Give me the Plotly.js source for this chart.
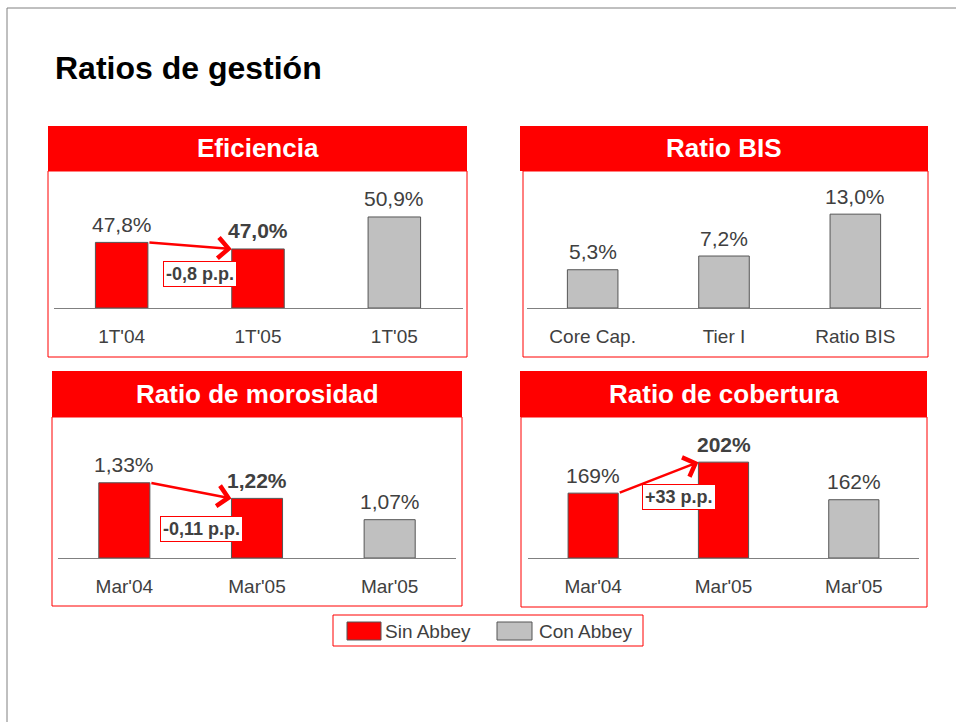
<!DOCTYPE html>
<html>
<head>
<meta charset="utf-8">
<script src="https://cdn.plot.ly/plotly-3.0.1.min.js"></script>
<style>html,body{margin:0;padding:0;background:#fff;}#chart{width:956px;height:722px;}</style>
</head>
<body>
<div id="chart"></div>
<script>
// ---------------- data ----------------
const pageTitle = 'Ratios de gestión';
const panelTitles = ['Eficiencia', 'Ratio BIS', 'Ratio de morosidad', 'Ratio de cobertura'];
const legendNames = ['Sin Abbey', 'Con Abbey'];

const efCats = ["1T'04", "1T'05", "1T'05"];
const efVals = [47.8, 47.0, 50.9];
const efGroup = ['Sin Abbey', 'Sin Abbey', 'Con Abbey'];

const bisCats = ['Core Cap.', 'Tier I', 'Ratio BIS'];
const bisVals = [5.3, 7.2, 13.0];
const bisGroup = ['Con Abbey', 'Con Abbey', 'Con Abbey'];

const morCats = ["Mar'04", "Mar'05", "Mar'05"];
const morVals = [1.33, 1.22, 1.07];
const morGroup = ['Sin Abbey', 'Sin Abbey', 'Con Abbey'];

const cobCats = ["Mar'04", "Mar'05", "Mar'05"];
const cobVals = [169, 202, 162];
const cobGroup = ['Sin Abbey', 'Sin Abbey', 'Con Abbey'];

// ---------------- styling / layout ----------------
const W = 956, H = 722;
const X = px => px / W;
const Y = py => 1 - py / H;
const RED = '#ff0000', GRAY = '#c0c0c0', OUT = '#555555', TXT = '#404040';
const FONT = 'Liberation Sans, Arial, sans-serif';
const groupColor = g => g === legendNames[0] ? RED : GRAY;
const BARW = 0.385;

const fmt = (v, d) => v.toFixed(d).replace('.', ',');

const panels = [
  {cats: efCats, vals: efVals, group: efGroup, dec: 1, compare: true, range: [39.8, 55.41],
   xd: [53.5, 462.5], yd: [308, 180], head: [48, 126, 467, 171], body: [48, 171, 467, 357],
   delta: [0.575, 273.5]},
  {cats: bisCats, vals: bisVals, group: bisGroup, dec: 1, compare: false, range: [0, 17.73],
   xd: [527, 921], yd: [308, 180], head: [520, 126, 928, 171], body: [523, 171, 928, 357]},
  {cats: morCats, vals: morVals, group: morGroup, dec: 2, compare: true, range: [0.8, 1.737],
   xd: [58, 456], yd: [558, 425], head: [52, 371, 462, 417], body: [52, 417, 462, 606],
   delta: [0.584, 528.5]},
  {cats: cobCats, vals: cobVals, group: cobGroup, dec: 0, compare: true, range: [100, 241.5],
   xd: [528, 919], yd: [558, 425], head: [520, 371, 927, 417], body: [521, 417, 927, 607],
   delta: [0.655, 496.5]}
];

const traces = [];
const annotations = [];
const shapes = [];
const layout = {
  width: W, height: H, autosize: false,
  margin: {l: 0, r: 0, t: 0, b: 0},
  paper_bgcolor: '#fff', plot_bgcolor: 'rgba(0,0,0,0)',
  showlegend: false,
  font: {family: FONT, color: TXT},
  title: {text: '<b>' + pageTitle + '</b>', x: X(55), xanchor: 'left', xref: 'paper',
          y: Y(68), yanchor: 'middle', yref: 'paper', font: {family: FONT, size: 32, color: '#000'}},
  bargap: 0
};

// outer frame
shapes.push({type: 'line', xref: 'paper', yref: 'paper', x0: X(7), x1: 1, y0: Y(8), y1: Y(8), line: {color: '#808080', width: 1}});
shapes.push({type: 'line', xref: 'paper', yref: 'paper', x0: X(7), x1: X(7), y0: Y(8), y1: 0, line: {color: '#808080', width: 1}});

panels.forEach((p, k) => {
  const n = k + 1;
  const xa = n === 1 ? 'xaxis' : 'xaxis' + n;
  const ya = n === 1 ? 'yaxis' : 'yaxis' + n;
  const xr = n === 1 ? 'x' : 'x' + n;
  const yr = n === 1 ? 'y' : 'y' + n;
  const idx = p.cats.map((c, i) => i);

  // Bars are drawn from the axis minimum (base), so the bar length is value - min
  traces.push({
    type: 'bar', x: idx, y: p.vals.map(v => v - p.range[0]), base: p.range[0],
    width: BARW, xaxis: xr, yaxis: yr,
    marker: {color: p.group.map(groupColor), line: {color: OUT, width: 1}},
    hoverinfo: 'skip'
  });

  layout[xa] = {
    domain: [X(p.xd[0]), X(p.xd[1])], range: [-0.5, 2.5], anchor: yr,
    tickmode: 'array', tickvals: idx, ticktext: p.cats,
    ticks: 'outside', ticklen: 11, tickcolor: 'rgba(0,0,0,0)',
    tickfont: {family: FONT, size: 19, color: TXT},
    showline: true, linecolor: '#808080', linewidth: 1,
    showgrid: false, zeroline: false, fixedrange: true
  };
  layout[ya] = {
    domain: [Y(p.yd[0]), Y(p.yd[1])], range: p.range, anchor: xr,
    showticklabels: false, showgrid: false, zeroline: false, showline: false, ticks: '', fixedrange: true
  };

  // value labels
  p.vals.forEach((v, i) => {
    const bold = p.compare && i === 1;
    annotations.push({
      xref: xr, yref: yr, x: i, y: v, yanchor: 'middle', yshift: 18, showarrow: false,
      text: bold ? '<b>' + fmt(v, p.dec) + '%</b>' : fmt(v, p.dec) + '%',
      font: {family: FONT, size: 21, color: TXT}
    });
  });

  // header + body frame
  shapes.push({type: 'rect', xref: 'paper', yref: 'paper', x0: X(p.head[0]), x1: X(p.head[2]), y0: Y(p.head[1]), y1: Y(p.head[3]),
               fillcolor: RED, line: {width: 0}, layer: 'below'});
  shapes.push({type: 'rect', xref: 'paper', yref: 'paper', x0: X(p.body[0]), x1: X(p.body[2]), y0: Y(p.body[1]), y1: Y(p.body[3]),
               fillcolor: 'rgba(0,0,0,0)', line: {color: RED, width: 1}, layer: 'below'});
  annotations.push({
    xref: 'paper', yref: 'paper', x: X((p.head[0] + p.head[2]) / 2), y: Y((p.head[1] + p.head[3]) / 2),
    xanchor: 'center', yanchor: 'middle', showarrow: false,
    text: '<b>' + panelTitles[k] + '</b>', font: {family: FONT, size: 26, color: '#ffffff'}
  });

  // comparison arrow + delta box
  if (p.compare) {
    annotations.push({
      xref: xr, yref: yr, axref: xr, ayref: yr,
      x: 1 - BARW / 2, y: p.vals[1], ax: 0 + BARW / 2, ay: p.vals[0],
      text: '', showarrow: true, arrowhead: 4, arrowsize: 1.6, arrowwidth: 2.5, arrowcolor: RED, standoff: 0, startstandoff: 0
    });
    const d = p.vals[1] - p.vals[0];
    const dTxt = (d > 0 ? '+' : '') + fmt(d, p.dec) + ' p.p.';
    annotations.push({
      xref: xr, yref: 'paper', x: p.delta[0], y: Y(p.delta[1]), xanchor: 'center', yanchor: 'middle',
      showarrow: false, text: '<b>' + dTxt + '</b>', font: {family: FONT, size: 18, color: TXT},
      bgcolor: '#ffffff', bordercolor: RED, borderwidth: 1, borderpad: 2
    });
  }
});

// legend box (custom)
shapes.push({type: 'rect', xref: 'paper', yref: 'paper', x0: X(333), x1: X(643), y0: Y(615), y1: Y(646), line: {color: RED, width: 1}, fillcolor: '#fff'});
const legX = [[347, 381, 383], [497, 532, 537]];
legendNames.forEach((name, i) => {
  shapes.push({type: 'rect', xref: 'paper', yref: 'paper', x0: X(legX[i][0]), x1: X(legX[i][1]), y0: Y(622), y1: Y(640),
               fillcolor: groupColor(name), line: {color: OUT, width: 1}});
  annotations.push({xref: 'paper', yref: 'paper', x: X(legX[i][2]), y: Y(631), xanchor: 'left', yanchor: 'middle',
                    showarrow: false, text: name, font: {family: FONT, size: 19, color: TXT}});
});

layout.shapes = shapes;
layout.annotations = annotations;

Plotly.newPlot('chart', traces, layout, {staticPlot: true, displayModeBar: false});
</script>
</body>
</html>
